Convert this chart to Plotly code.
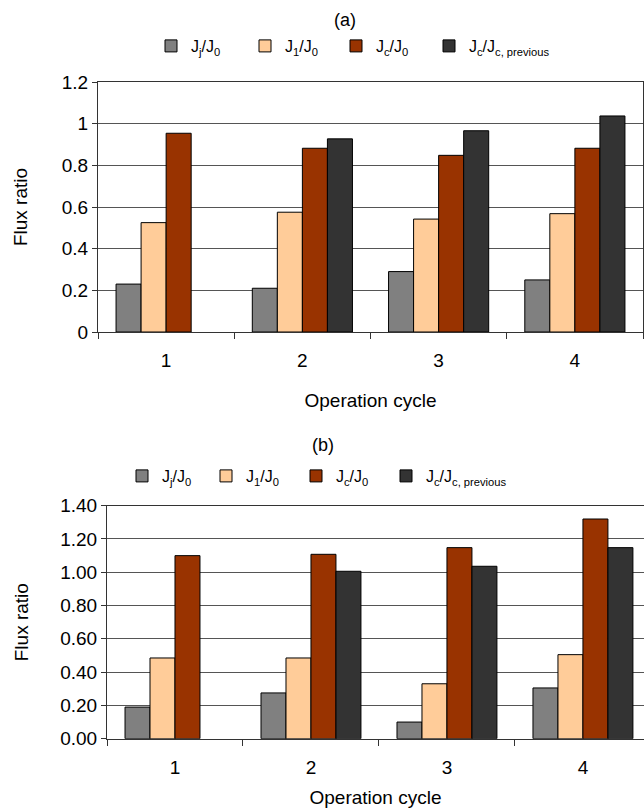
import plotly.graph_objects as go

# Operation cycles (x categories)
cycles = ["1", "2", "3", "4"]

# Legend labels and fill colours of the four flux ratios
series_names = [
    "J<sub>j</sub>/J<sub>0</sub>",
    "J<sub>1</sub>/J<sub>0</sub>",
    "J<sub>c</sub>/J<sub>0</sub>",
    "J<sub>c</sub>/J<sub>c, previous</sub>",
]
series_colors = ["#808080", "#FFCC99", "#993300", "#333333"]

# Panel (a) flux ratios
a_jj = [0.23, 0.21, 0.29, 0.25]
a_j1 = [0.525, 0.575, 0.542, 0.568]
a_jc = [0.954, 0.882, 0.848, 0.882]
a_jcp = [None, 0.927, 0.966, 1.037]

# Panel (b) flux ratios
b_jj = [0.19, 0.275, 0.10, 0.305]
b_j1 = [0.485, 0.485, 0.33, 0.505]
b_jc = [1.10, 1.108, 1.148, 1.32]
b_jcp = [None, 1.006, 1.036, 1.148]

W, H = 644, 812
FONT = "Liberation Sans, Arial, sans-serif"

# left pixel position of each legend entry, per panel
legend_x_a = [151, 245, 336, 429]
legend_x_b = [122, 206, 296, 386]

fig = go.Figure()
legends = {}

panels = [
    ("x", "y", [a_jj, a_j1, a_jc, a_jcp], legend_x_a, 46, 0),
    ("x2", "y2", [b_jj, b_j1, b_jc, b_jcp], legend_x_b, 476, 4),
]
for xa, ya, data, lx, ly, offset in panels:
    for i, (name, color, vals) in enumerate(zip(series_names, series_colors, data)):
        key = "legend" if offset + i == 0 else f"legend{offset + i + 1}"
        fig.add_trace(go.Bar(
            x=cycles, y=vals, name=name, xaxis=xa, yaxis=ya, legend=key,
            marker=dict(color=color, line=dict(color="#000000", width=1)),
        ))
        legends[key] = dict(
            orientation="h", x=lx[i] / W, y=1 - ly / H, xanchor="left",
            yanchor="middle", font=dict(family=FONT, size=16, color="#000000"),
            bgcolor="rgba(0,0,0,0)", borderwidth=0,
        )

grid = "#555555"
axis_line = "#333333"
tickfont = dict(family=FONT, size=19, color="#000000")
titlefont = dict(family=FONT, size=19, color="#000000")

common_x = dict(
    type="category", tickson="boundaries", ticks="outside", ticklen=6,
    tickcolor=axis_line, showline=True, linecolor=axis_line, linewidth=1,
    tickfont=tickfont, showgrid=False, range=[-0.5, 3.5],
    ticklabelstandoff=11, automargin=False,
)
common_y = dict(
    ticks="outside", ticklen=5, tickcolor=axis_line, showline=True,
    linecolor=axis_line, linewidth=1, showgrid=True, gridcolor=grid,
    gridwidth=1, tickfont=tickfont, zeroline=False, dtick=0.2,
    automargin=False,
)

fig.update_layout(
    width=W, height=H,
    margin=dict(l=0, r=0, t=0, b=0, autoexpand=False),
    paper_bgcolor="white", plot_bgcolor="white",
    font=dict(family=FONT, size=16, color="#000000"),
    barmode="group", bargap=0.265, bargroupgap=0,
    showlegend=True,
    xaxis=dict(common_x, domain=[98 / W, 643 / W], anchor="y", mirror=True,
               title=dict(text="Operation cycle", font=titlefont, standoff=23)),
    yaxis=dict(common_y, domain=[1 - 332 / H, 1 - 82 / H], anchor="x",
               range=[0, 1.2], mirror=True,
               title=dict(text="Flux ratio", font=titlefont, standoff=29)),
    xaxis2=dict(common_x, domain=[107 / W, 1.0], anchor="y2", mirror=True,
                range=[-0.5, 3.449],
                title=dict(text="Operation cycle", font=titlefont, standoff=14)),
    yaxis2=dict(common_y, domain=[1 - 738.7 / H, 1 - 505.7 / H], anchor="x2",
                range=[0, 1.4], tickformat=".2f",
                title=dict(text="Flux ratio", font=titlefont, standoff=26)),
    annotations=[
        dict(text="(a)", x=345 / W, y=1 - 20 / H, xref="paper", yref="paper",
             showarrow=False, font=dict(family=FONT, size=18), xanchor="center",
             yanchor="middle"),
        dict(text="(b)", x=323 / W, y=1 - 445 / H, xref="paper", yref="paper",
             showarrow=False, font=dict(family=FONT, size=18), xanchor="center",
             yanchor="middle"),
    ],
    **legends,
)

fig.write_html("out.html")
